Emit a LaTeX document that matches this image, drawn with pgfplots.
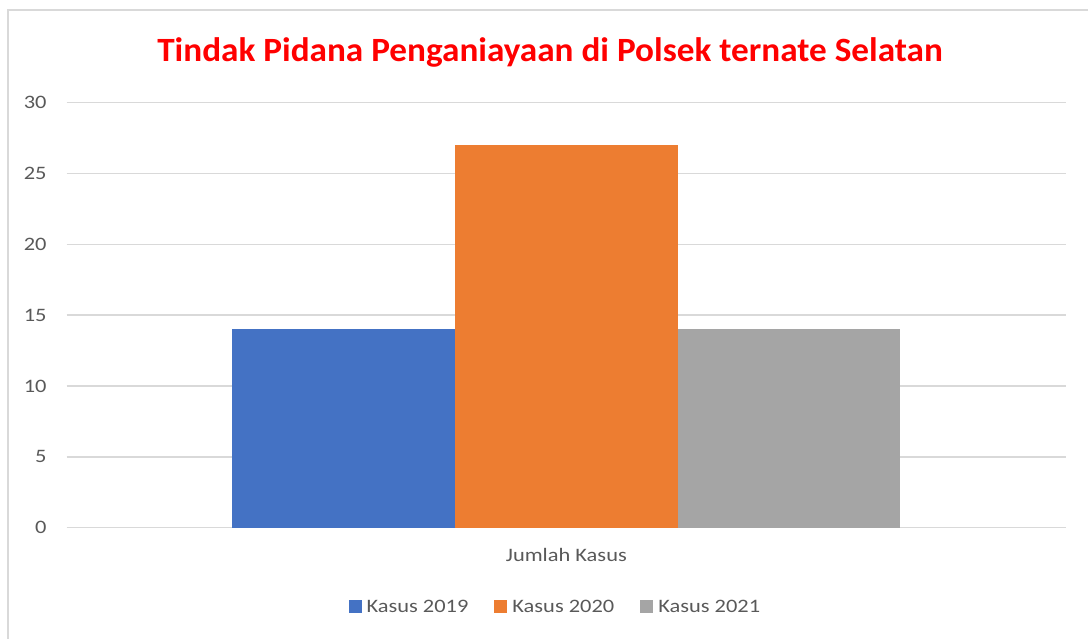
\documentclass[border=0pt]{standalone}
\usepackage{fontspec}
\setmainfont{Carlito}[FakeStretch=1.18]
\newfontfamily\titlefont{Carlito}[FakeStretch=1.035]
\usepackage{pgfplots}
\pgfplotsset{compat=1.18}
\definecolor{cblue}{HTML}{4472C4}
\definecolor{corange}{HTML}{ED7D31}
\definecolor{cgray}{HTML}{A5A5A5}
\definecolor{gridc}{HTML}{D9D9D9}
\definecolor{framec}{HTML}{D9D9D9}
\definecolor{txt}{HTML}{595959}
\begin{document}
\begin{tikzpicture}[x=1pt,y=1pt]
\path[use as bounding box] (0,0) rectangle (1088,639);
\draw[color=framec, line width=1.5pt] (8,0) -- (8,629) -- (1088,629);
\begin{axis}[
  at={(66.7pt,111.3pt)}, anchor=south west,
  scale only axis, width=999.3pt, height=425pt,
  xmin=-0.5, xmax=0.5, ymin=0, ymax=30,
  ytick={0,5,...,30}, xtick={0}, xticklabels={Jumlah Kasus},
  axis line style={draw=none}, major tick length=0pt,
  ymajorgrids, grid style={color=gridc, line width=1.4pt},
  ybar, bar width=222.7pt,
  tick label style={font=\fontsize{19}{22}\selectfont, text=txt},
  /pgf/number format/assume math mode=true,
  yticklabel style={anchor=east, inner sep=0pt, xshift=-20pt},
  xticklabel style={anchor=base, inner sep=0pt, yshift=-34pt},
  legend columns=3,
  legend style={at={(0.488,-0.186)}, anchor=center, draw=none, fill=none,
    inner sep=0pt, font=\fontsize{19}{22}\selectfont, text=txt,
    nodes={inner sep=0pt},
    /tikz/every odd column/.append style={column sep=5pt},
    /tikz/every even column/.append style={column sep=26pt}},
  legend image code/.code={\fill[#1] (0pt,-6.5pt) rectangle (13pt,6.5pt);},
]
\addplot[fill=cblue, draw=none, bar shift=-222.7pt] coordinates {(0,14)};
\addplot[fill=corange, draw=none, bar shift=0pt] coordinates {(0,27)};
\addplot[fill=cgray, draw=none, bar shift=222.7pt] coordinates {(0,14)};
\legend{Kasus 2019, Kasus 2020, Kasus 2021}
\end{axis}
\node[anchor=base, inner sep=0pt, text=red, font=\titlefont\bfseries\fontsize{34}{40}\selectfont] at (550,577.3) {Tindak Pidana Penganiayaan di Polsek ternate Selatan};
\end{tikzpicture}
\end{document}
